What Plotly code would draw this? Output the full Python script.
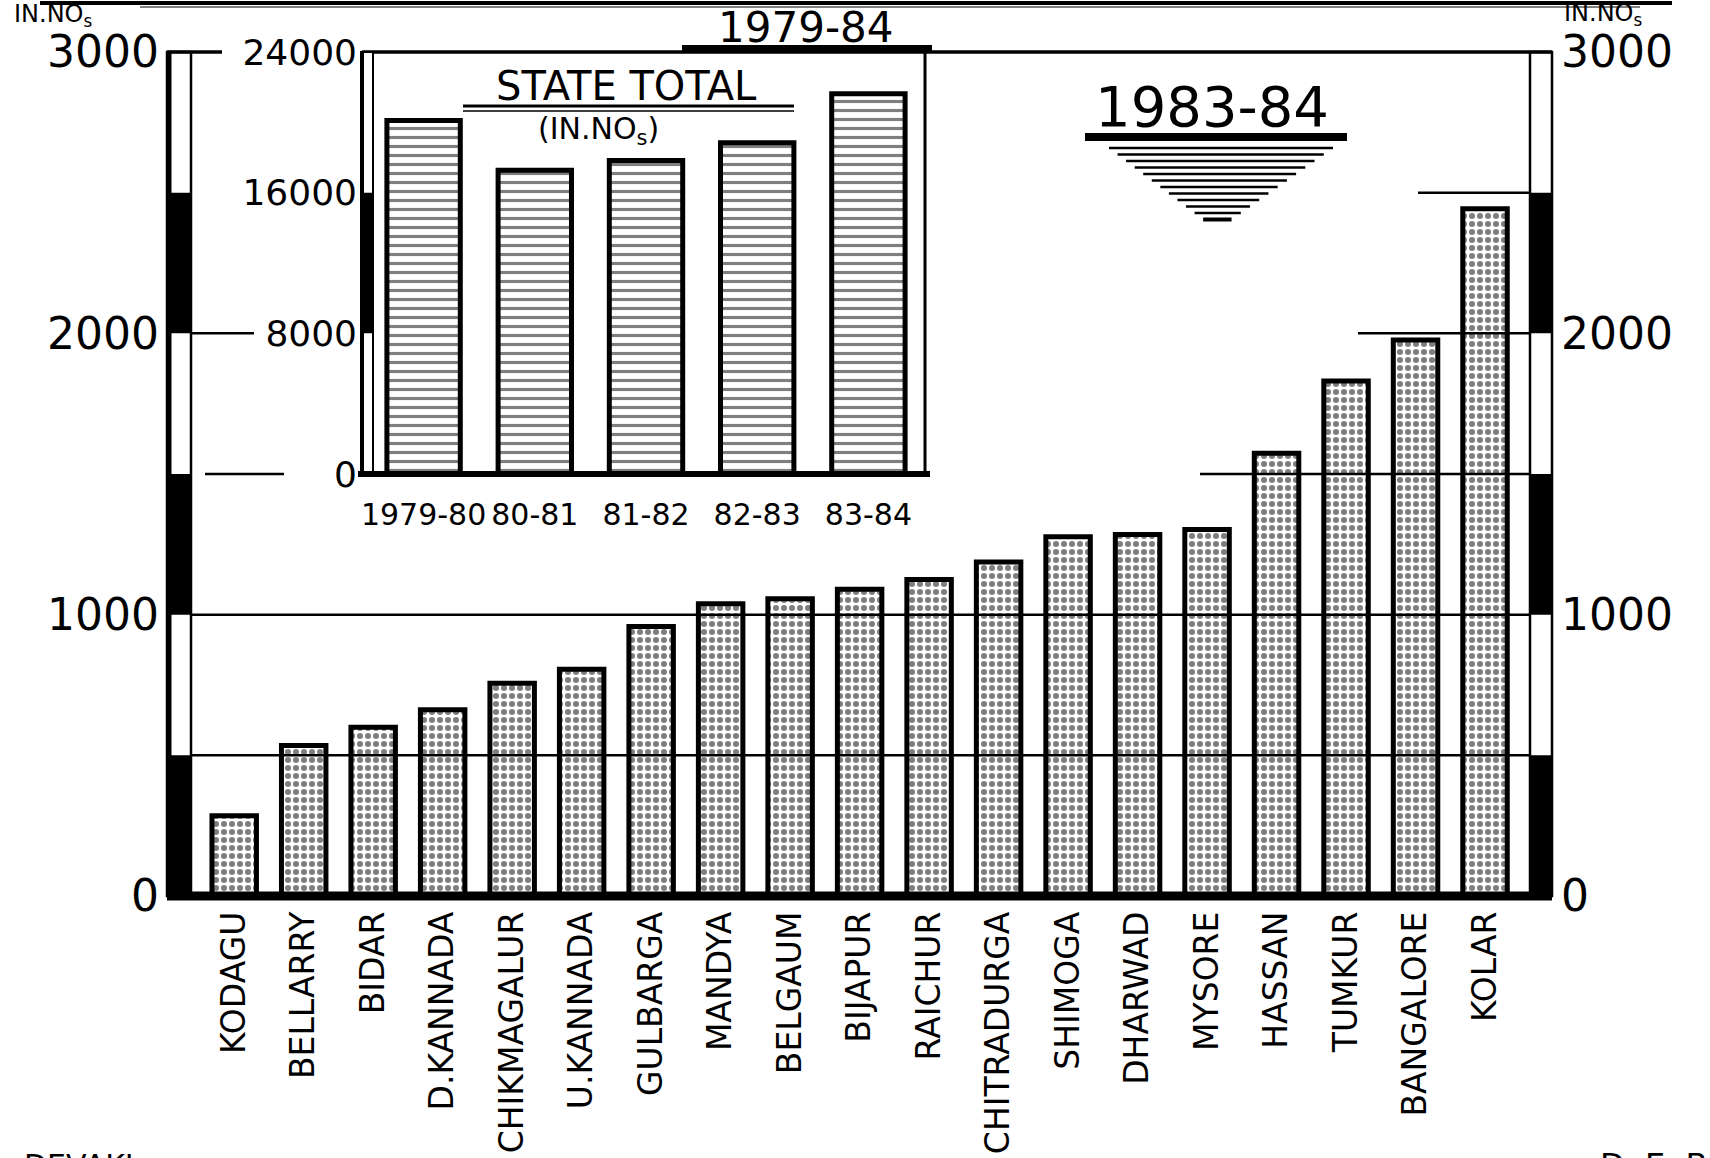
import plotly.graph_objects as go

# ---------------- data ----------------
districts = ["KODAGU", "BELLARRY", "BIDAR", "D.KANNADA", "CHIKMAGALUR", "U.KANNADA",
             "GULBARGA", "MANDYA", "BELGAUM", "BIJAPUR", "RAICHUR", "CHITRADURGA",
             "SHIMOGA", "DHARWAD", "MYSORE", "HASSAN", "TUMKUR", "BANGALORE", "KOLAR"]
district_values = [285, 535, 600, 662, 756, 806, 958, 1039, 1057, 1090, 1125, 1187,
                   1277, 1285, 1303, 1574, 1831, 1976, 2443]

years = ["1979-80", "80-81", "81-82", "82-83", "83-84"]
state_totals = [20100, 17270, 17830, 18840, 21620]

main_ticks = [0, 1000, 2000, 3000]
main_tick_labels = ["0", "1000", "2000", "3000"]
inset_ticks = [0, 8000, 16000, 24000]
inset_tick_labels = ["0", "8000", "16000", "24000"]
main_bands = [(0, 500), (1000, 1500), (2000, 2500)]
inset_bands = [(8000, 16000)]

# ---------------- geometry helpers (decoration only) ----------------
W, H = 1710, 1158
L, R, T, B = 180, 1542, 52, 896


def px(x):
    return (x - L) / (R - L)


def py(y):
    return (B - y) / (B - T)


FONT = "DejaVu Sans"
INK = "black"

fig = go.Figure()

fig.add_trace(go.Bar(
    x=districts, y=district_values, width=0.64,
    marker=dict(color="white", line=dict(color=INK, width=5),
                pattern=dict(shape=".", fgcolor=INK, bgcolor="white", size=8, solidity=0.45)),
    hoverinfo="x+y", showlegend=False))

fig.add_trace(go.Scatter(
    x=districts, y=district_values, yaxis="y3", mode="markers",
    marker=dict(opacity=0), hoverinfo="skip", showlegend=False))

fig.add_trace(go.Bar(
    x=years, y=state_totals, xaxis="x2", yaxis="y2", width=0.66,
    marker=dict(color="white", line=dict(color=INK, width=5),
                pattern=dict(shape="-", fgcolor=INK, bgcolor="white", size=9, solidity=0.35)),
    hoverinfo="x+y", showlegend=False))

shapes = []


def hline(x0, x1, y, w, yref="paper"):
    shapes.append(dict(type="line", xref="paper", yref=yref, x0=x0, x1=x1, y0=y, y1=y,
                       line=dict(color=INK, width=w), layer="above"))


# inset white background
shapes.append(dict(type="rect", xref="paper", yref="paper", x0=px(368), x1=px(924),
                   y0=0.5, y1=1.0, fillcolor="white", line=dict(width=0), layer="below"))

# main scale bars (left & right)
for (bx0, bx1) in [(167, 191), (1530, 1552)]:
    shapes.append(dict(type="rect", xref="paper", yref="paper", x0=px(bx0), x1=px(bx1),
                       y0=0, y1=1, fillcolor="white", line=dict(color=INK, width=2.5),
                       layer="above"))
    for (a, b) in main_bands:
        shapes.append(dict(type="rect", xref="paper", yref="y", x0=px(bx0), x1=px(bx1),
                           y0=a, y1=b, fillcolor=INK, line=dict(width=0), layer="above"))
shapes.append(dict(type="line", xref="paper", yref="paper", x0=px(169), x1=px(169),
                   y0=0, y1=1, line=dict(color=INK, width=5), layer="above"))

# main partial grid lines
hline(px(191), px(1530), 500, 2.5, "y")
hline(px(191), px(1530), 1000, 2.5, "y")
hline(px(205), px(284), 1500, 2.5, "y")
hline(px(1200), px(1530), 1500, 2.5, "y")
hline(px(191), px(254), 2000, 2.5, "y")
hline(px(1358), px(1530), 2000, 2.5, "y")
hline(px(1418), px(1530), 2500, 2.5, "y")
# top border and baseline
hline(px(167), px(222), 1, 3.5)
hline(px(362), px(1552), 1, 3.5)
hline(px(167), px(1552), 0, 9)

# inset frame & gridlines
for v in inset_ticks[1:3]:
    shapes.append(dict(type="line", xref="x2 domain", yref="y2", x0=0, x1=1, y0=v, y1=v,
                       line=dict(color=INK, width=2.5), layer="below"))
shapes.append(dict(type="rect", xref="paper", yref="paper", x0=px(361), x1=px(373),
                   y0=0.5, y1=1.0, fillcolor="white", line=dict(color=INK, width=2),
                   layer="above"))
for (a, b) in inset_bands:
    shapes.append(dict(type="rect", xref="paper", yref="y2", x0=px(361), x1=px(373),
                       y0=a, y1=b, fillcolor=INK, line=dict(width=0), layer="above"))
shapes.append(dict(type="line", xref="paper", yref="paper", x0=px(362), x1=px(362),
                   y0=0.5, y1=1.0, line=dict(color=INK, width=4), layer="above"))
shapes.append(dict(type="line", xref="paper", yref="paper", x0=px(925), x1=px(925),
                   y0=0.5, y1=1.0, line=dict(color=INK, width=3), layer="above"))
hline(px(358), px(930), 0.5, 6)

# very top double rule
hline(px(40), px(1672), py(3), 4)
hline(px(140), px(1640), py(7), 1.2)
# title underline
hline(px(682), px(932), py(48), 6)
# STATE TOTAL underline
hline(px(463), px(794), py(106), 3)
hline(px(463), px(794), py(111), 1.5)
# 1983-84 underline and tapered wedge
hline(px(1085), px(1347), py(137), 8)
for i in range(12):
    half = 112 * (1 - i / 12.6)
    cx = 1217 + 4 * (1 - i / 12)
    hline(px(cx - half), px(cx + half), py(148 + i * 6.5), 2.5 if i < 11 else 4)

annotations = [
    dict(text="1979-84", x=px(806), y=py(27), font=dict(family=FONT, size=42)),
    dict(text="1983-84", x=px(1212), y=py(106), font=dict(family=FONT, size=56)),
    dict(text="STATE TOTAL", x=px(626), y=py(86), font=dict(family=FONT, size=40)),
    dict(text="(IN.NO<sub>s</sub>)", x=px(598), y=py(130), font=dict(family=FONT, size=30)),
    dict(text="IN.NO<sub>s</sub>", x=px(12), y=py(15), xanchor="left",
         font=dict(family=FONT, size=24)),
    dict(text="IN.NO<sub>s</sub>", x=px(1562), y=py(14), xanchor="left",
         font=dict(family=FONT, size=24)),
    dict(text="DEVAKI", x=px(22), y=py(1146), xanchor="left", yanchor="top",
         font=dict(family=FONT, size=30)),
    dict(text="D. E. B.", x=px(1598), y=py(1144), xanchor="left", yanchor="top",
         font=dict(family=FONT, size=32)),
]
for a in annotations:
    a.setdefault("xref", "paper")
    a.setdefault("yref", "paper")
    a.setdefault("showarrow", False)
    a.setdefault("xanchor", "center")
    a.setdefault("yanchor", "middle")
    a["font"]["color"] = INK

fig.update_layout(
    width=W, height=H,
    margin=dict(l=L, r=W - R, t=T, b=H - B, autoexpand=False),
    paper_bgcolor="white", plot_bgcolor="white",
    font=dict(family=FONT, color=INK),
    showlegend=False,
    xaxis=dict(type="category", range=[-0.78, 18.82], tickangle=-90,
               tickfont=dict(family=FONT, size=33), showgrid=False, zeroline=False,
               showline=False, ticks="", automargin=False, ticklabelstandoff=8,
               fixedrange=True),
    yaxis=dict(range=[0, 3000], tickvals=main_ticks, ticktext=main_tick_labels,
               tickfont=dict(family=FONT, size=44), showgrid=False, zeroline=False,
               showline=False, ticks="", automargin=False, ticklabelstandoff=20,
               fixedrange=True),
    yaxis3=dict(range=[0, 3000], tickvals=main_ticks, ticktext=main_tick_labels,
                overlaying="y", side="right", anchor="x",
                tickfont=dict(family=FONT, size=44), showgrid=False, zeroline=False,
                showline=False, ticks="", automargin=False, ticklabelstandoff=18,
                fixedrange=True),
    xaxis2=dict(type="category", domain=[px(368), px(924)], anchor="y2",
                range=[-0.5, 4.5], tickangle=0, tickfont=dict(family=FONT, size=30),
                showgrid=False, zeroline=False, showline=False, ticks="",
                automargin=False, ticklabelstandoff=20, fixedrange=True),
    yaxis2=dict(domain=[0.5, 1.0], anchor="x2", range=[0, 24000],
                tickvals=inset_ticks, ticktext=inset_tick_labels,
                tickfont=dict(family=FONT, size=36), showgrid=False, zeroline=False,
                showline=False, ticks="", automargin=False, ticklabelstandoff=10,
                fixedrange=True),
    shapes=shapes, annotations=annotations,
)

fig.write_html("out.html", config={"displayModeBar": False},
               post_script="document.body.style.margin='0';document.body.style.overflow='hidden';")
